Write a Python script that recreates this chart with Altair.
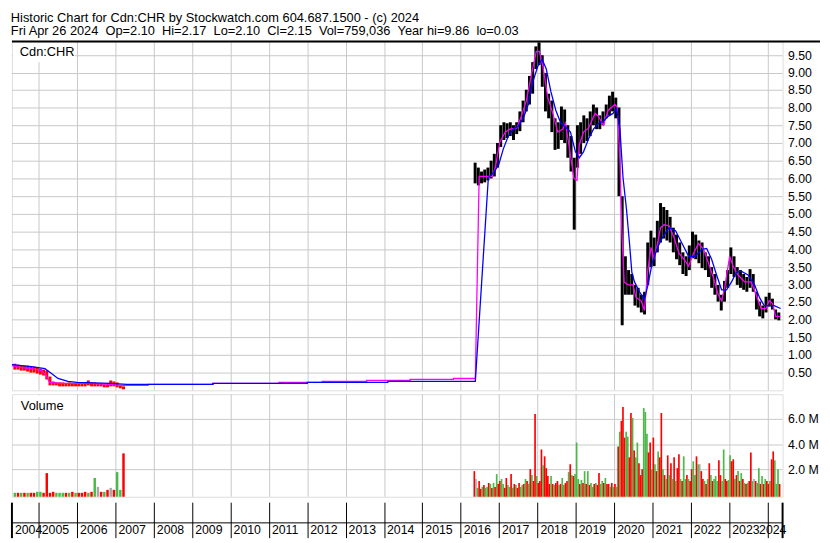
import altair as alt
import pandas as pd

FONT = "Liberation Sans"
GRID = "#c8c8c8"
X0, X1 = 2004.30, 2024.39
W, H_PRICE, H_VOL, H_AX = 782, 354, 104, 34
Y_MAX = 9.88
VOL_MIN, VOL_MAX = -0.23, 8.0

title_lines = [
    "Historic Chart for Cdn:CHR by Stockwatch.com 604.687.1500 - (c) 2024",
    "Fri Apr 26 2024 \u00a0Op=2.10 \u00a0Hi=2.17 \u00a0Lo=2.10 \u00a0Cl=2.15 \u00a0Vol=759,036 \u00a0Year hi=9.86 \u00a0lo=0.03",
]
ticker_label = "Cdn:CHR"
volume_label = "Volume"

grid_years = list(range(2005, 2025))
label_years = list(range(2004, 2025))
price_levels = [0.5, 1.0, 1.5, 2.0, 2.5, 3.0, 3.5, 4.0, 4.5, 5.0,
                5.5, 6.0, 6.5, 7.0, 7.5, 8.0, 8.5, 9.0, 9.5]
vol_levels = [2, 4, 6]

# ---- monthly price ranges, May 2004 - Mar 2007 ----
early_hi = [0.76, 0.72, 0.70, 0.69, 0.70, 0.66, 0.66, 0.63,
            0.62, 0.60, 0.55, 0.40, 0.25, 0.22, 0.22, 0.21, 0.20, 0.22, 0.20, 0.20,
            0.20, 0.21, 0.22, 0.28, 0.22, 0.21, 0.20, 0.19, 0.18, 0.18, 0.27, 0.25,
            0.22, 0.15, 0.12]
early_lo = [0.60, 0.58, 0.55, 0.55, 0.54, 0.50, 0.50, 0.47,
            0.45, 0.42, 0.30, 0.15, 0.13, 0.13, 0.12, 0.12, 0.11, 0.12, 0.11, 0.11,
            0.11, 0.12, 0.12, 0.13, 0.12, 0.11, 0.10, 0.10, 0.09, 0.09, 0.12, 0.10,
            0.08, 0.06, 0.03]

# ---- monthly price ranges, May 2016 - Apr 2024 ----
late_hi = [6.45, 6.30, 6.20, 6.25, 6.30, 6.50, 6.70, 7.00,
           7.50, 7.60, 7.55, 7.60, 7.50, 7.60, 7.90, 8.20, 8.50, 8.90, 9.30, 9.75,
           9.86, 9.50, 9.00, 8.40, 8.20, 7.70, 7.60, 8.05, 7.95, 7.50, 7.20, 6.60,
           7.50, 7.60, 7.80, 7.70, 7.90, 8.10, 8.00, 7.80, 7.90, 8.10, 8.35, 8.45,
           8.30, 8.00, 5.50, 3.80, 3.40, 3.30, 3.00, 2.90, 2.72, 2.80, 4.20, 4.52,
           4.33, 4.80, 5.30, 5.20, 5.10, 4.90, 4.60, 4.40, 4.20, 3.90, 3.80, 4.10,
           4.50, 4.40, 4.25, 4.20, 3.90, 3.80, 3.50, 3.30, 3.00, 2.72, 3.10, 3.40,
           4.06, 3.80, 3.50, 3.40, 3.30, 3.20, 3.44, 3.30, 2.80, 2.50, 2.40, 2.65,
           2.77, 2.60, 2.30, 2.20]
late_lo = [5.85, 5.80, 5.85, 5.90, 5.95, 6.00, 6.05, 6.30,
           6.90, 7.10, 7.15, 7.20, 7.10, 7.25, 7.35, 7.60, 7.90, 8.10, 8.40, 9.10,
           9.20, 8.60, 7.90, 7.70, 7.30, 6.80, 6.85, 7.10, 7.00, 6.60, 6.20, 4.55,
           6.30, 6.70, 7.00, 7.05, 7.20, 7.50, 7.40, 7.40, 7.50, 7.70, 7.80, 7.90,
           7.70, 5.50, 1.83, 2.70, 2.70, 2.70, 2.40, 2.35, 2.20, 2.15, 3.00, 3.50,
           3.53, 3.90, 4.20, 4.30, 4.25, 4.20, 3.90, 3.70, 3.55, 3.30, 3.25, 3.40,
           3.75, 3.70, 3.60, 3.45, 3.40, 3.20, 2.90, 2.70, 2.50, 2.26, 2.50, 2.90,
           3.30, 3.20, 3.00, 2.90, 2.85, 2.80, 2.90, 2.80, 2.30, 2.10, 2.05, 2.20,
           2.37, 2.30, 2.00, 1.99]

# ---- moving averages ----
ma_fast_t = [2004.30, 2004.55, 2004.81, 2005.07, 2005.20, 2005.28, 2005.60, 2006.30, 2006.87, 2007.20, 2007.30,
             2007.85, 2007.85, 2009.54, 2009.54, 2011.26, 2011.26, 2012.39, 2012.39, 2013.55, 2013.55,
             2014.68, 2014.68, 2015.81, 2015.81, 2016.38,
             2016.48, 2016.82, 2016.90, 2017.02, 2017.16, 2017.28, 2017.46, 2017.58, 2017.71, 2017.84,
             2017.97, 2018.05, 2018.14, 2018.27, 2018.40, 2018.53, 2018.66, 2018.73, 2018.82, 2018.95,
             2019.03, 2019.09, 2019.20, 2019.33, 2019.50, 2019.59, 2019.72, 2019.84, 2020.02, 2020.08,
             2020.15, 2020.20, 2020.26, 2020.36, 2020.49, 2020.57, 2020.70, 2020.79, 2020.87, 2020.96,
             2021.04, 2021.13, 2021.21, 2021.30, 2021.43, 2021.56, 2021.69, 2021.82, 2021.94, 2022.07,
             2022.20, 2022.33, 2022.46, 2022.59, 2022.71, 2022.80, 2022.88, 2023.01, 2023.10, 2023.23,
             2023.40, 2023.57, 2023.70, 2023.83, 2023.96, 2024.04, 2024.13, 2024.21, 2024.33]
ma_fast_v = [0.70, 0.65, 0.61, 0.56, 0.43, 0.22, 0.20, 0.19, 0.18, 0.13, 0.14,
             0.14, 0.17, 0.17, 0.19, 0.19, 0.23, 0.23, 0.245, 0.245, 0.28,
             0.28, 0.31, 0.31, 0.345, 0.345,
             6.05, 6.05, 6.31, 7.03, 7.30, 7.39, 7.43, 7.76, 8.20, 8.92,
             9.59, 9.59, 9.19, 8.29, 7.84, 7.30, 7.39, 7.57, 6.95, 6.00,
             5.95, 6.95, 7.30, 7.43, 7.84, 7.76, 7.52, 7.93, 8.10, 8.00,
             6.49, 4.52, 3.07, 2.99, 2.99, 2.63, 2.54, 2.27, 3.34, 4.06,
             3.71, 4.15, 4.60, 4.69, 4.65, 4.33, 3.88, 3.71, 3.53, 3.88,
             4.15, 3.98, 3.61, 3.17, 2.72, 2.54, 2.90, 3.80, 3.53, 3.26,
             3.07, 3.07, 2.72, 2.31, 2.31, 2.54, 2.45, 2.10, 2.10]

ma_slow_t = [2004.30, 2004.81, 2005.16, 2005.33, 2005.50, 2005.76, 2006.00, 2006.87, 2007.30,
             2009.54, 2009.54, 2012.00, 2012.00, 2014.10, 2014.10, 2016.38,
             2016.72, 2016.86, 2016.99, 2017.11, 2017.24, 2017.37, 2017.50, 2017.63, 2017.76, 2017.88,
             2018.01, 2018.12, 2018.23, 2018.35, 2018.48, 2018.61, 2018.74, 2018.86, 2018.99, 2019.09,
             2019.20, 2019.33, 2019.46, 2019.59, 2019.72, 2019.84, 2019.97, 2020.06, 2020.15, 2020.23,
             2020.32, 2020.40, 2020.46, 2020.53, 2020.66, 2020.79, 2020.88, 2020.99, 2021.13, 2021.26,
             2021.43, 2021.60, 2021.77, 2021.94, 2022.11, 2022.29, 2022.41, 2022.54, 2022.67, 2022.80,
             2022.93, 2023.06, 2023.19, 2023.31, 2023.49, 2023.66, 2023.79, 2023.91, 2024.04, 2024.17,
             2024.34]
ma_slow_v = [0.72, 0.67, 0.61, 0.47, 0.34, 0.25, 0.22, 0.20, 0.18,
             0.18, 0.19, 0.19, 0.21, 0.21, 0.24, 0.24,
             6.04, 6.18, 6.40, 6.85, 7.21, 7.39, 7.48, 7.70, 8.10, 8.74,
             9.19, 9.37, 9.10, 8.47, 7.93, 7.57, 7.45, 7.30, 6.76, 6.58,
             6.76, 7.12, 7.39, 7.57, 7.61, 7.75, 7.84, 7.97, 7.39, 6.04,
             5.14, 4.15, 3.34, 3.07, 2.80, 2.58, 2.99, 3.61, 4.06, 4.33,
             4.60, 4.51, 4.15, 3.80, 3.80, 3.98, 4.02, 3.71, 3.26, 2.85,
             2.85, 3.07, 3.34, 3.39, 3.26, 2.99, 2.63, 2.40, 2.40, 2.40,
             2.31]

# ---- volume (millions of shares) ----
vol_early_v = [0.10, 0.08, 0.08, 0.10, 0.05, 0.10, 0.08, 0.20,
               0.20, 0.10, 1.70, 0.10, 0.20, 0.10, 0.08, 0.10, 0.08, 0.10, 0.15, 0.08,
               0.10, 0.10, 0.15, 0.12, 0.15, 1.25, 0.60, 0.20, 0.15, 0.35, 0.50, 0.30,
               1.77, 0.30, 3.25]
vol_early_c = list("grgrgrrg" "grrrrgggrgrg" "rrrgrgnrgrnr" "ggr")

vol_late_v = (
    [1.8, 1.2, 0.5, 1.0, 0.4, 0.6, 0.7, 0.5, 0.6, 0.9, 0.8, 0.5, 0.9, 0.6, 1.6, 0.8]
    + [1.0, 1.2, 0.8, 0.5, 1.25, 0.7, 0.6, 1.56, 0.5, 0.8, 0.7, 0.5, 0.9, 0.6, 0.7, 0.8,
       1.2, 1.0, 0.8, 2.0, 1.5, 1.0, 6.4, 1.4]
    + [0.9, 1.0, 3.6, 2.3, 3.05, 2.1, 1.4, 0.8, 1.4, 0.8, 0.7, 0.9, 1.0, 0.7, 0.8, 1.3,
       0.7, 0.9, 1.0, 1.77, 2.4, 1.5, 1.4, 1.6]
    + [4.1, 1.2, 0.8, 1.1, 0.9, 1.8, 0.8, 1.8, 0.7, 0.9, 0.6, 0.8, 0.9, 0.7, 1.64, 0.8,
       1.0, 0.9, 1.3, 0.8, 0.8, 0.6, 0.9, 0.6]
    + [0.8, 0.6, 3.8, 5.0, 5.9, 7.0, 4.5, 5.0, 4.6, 2.9, 6.5, 6.1, 3.5, 2.9, 4.1, 2.5,
       1.5, 2.0, 6.9, 6.6, 4.8, 3.3, 4.1, 2.0]
    + [4.5, 2.4, 1.8, 3.4, 2.9, 6.5, 2.0, 1.5, 1.2, 3.1, 1.5, 2.5, 1.2, 2.9, 1.0, 2.1,
       3.2, 1.2, 1.0, 3.0, 1.2, 1.5, 1.2, 1.0]
    + [2.0, 2.6, 1.5, 3.0, 2.4, 2.4, 1.8, 1.2, 1.0, 0.8, 1.2, 2.5, 1.5, 1.0, 1.2, 1.4,
       1.0, 2.7, 1.5, 1.0, 3.55, 1.2, 1.0, 1.1]
    + [3.1, 2.6, 2.8, 1.2, 1.5, 1.8, 1.0, 1.7, 1.2, 0.9, 0.8, 0.9, 1.0, 3.35, 1.0, 1.2,
       1.0, 0.9, 2.1, 0.8, 1.4, 0.8, 1.2, 1.0]
    + [0.8, 1.0, 2.8, 3.4, 2.7, 0.8, 2.0, 0.8]
)
vol_late_c = list(
    "rngrrgrggrgrgrgr"
    "rggrrggrgrgrrggrgrgrgrrg"
    "rrrgrrrrgrgrrgrggrrgrgrg"
    "ggrgrgrgrggrgrrggrgrrgrg"
    "rgrgrrrggrrgrggrrrgggrrg"
    "rgrgrrgrgrgrgrgrrgrggrgr"
    "rggrgnrrgrgrgrgggrrggrrg"
    "grrgrgrgrgrgrrgnrggrgrgr"
    "rgrrgggr"
)


def dec_months(start, n):
    per = pd.period_range(start, periods=n, freq="M")
    return [p.year + (p.month - 0.5) / 12 for p in per]


def dec_half_months(start, n_months):
    per = pd.period_range(start, periods=n_months, freq="M")
    out = []
    for p in per:
        b = p.year + (p.month - 1) / 12
        out += [b + 0.25 / 12, b + 0.75 / 12]
    return out


early_df = pd.DataFrame({"t": dec_months("2004-05", len(early_hi)), "hi": early_hi, "lo": early_lo})
late_df = pd.DataFrame({"t": dec_months("2016-05", len(late_hi)), "hi": late_hi, "lo": late_lo})
fast_df = pd.DataFrame({"t": ma_fast_t, "v": ma_fast_v, "i": range(len(ma_fast_t))})
slow_df = pd.DataFrame({"t": ma_slow_t, "v": ma_slow_v, "i": range(len(ma_slow_t))})
vol_e_df = pd.DataFrame({"t": dec_months("2004-05", len(vol_early_v)), "v": vol_early_v, "c": vol_early_c})
vol_l_df = pd.DataFrame({"t": dec_half_months("2016-05", len(vol_late_v) // 2), "v": vol_late_v, "c": vol_late_c})

xs = alt.Scale(domain=[X0, X1], nice=False, zero=False)
xs_grid = alt.Scale(domain=[X0, X1], nice=False, zero=False, round=True)
ys = alt.Scale(domain=[0, Y_MAX], nice=False, zero=False, round=True)
vs = alt.Scale(domain=[VOL_MIN, VOL_MAX], nice=False, zero=False, round=True)
cs = alt.Scale(domain=["r", "g", "n"], range=["#ff0000", "#4cb848", "#a8a8a8"])

price_axis = alt.Axis(orient="right", values=price_levels, format=".2f", grid=False, ticks=False,
                      domain=False, labelPadding=5, labelFontSize=12.5, labelColor="black",
                      labelFont=FONT, title=None, labelOverlap=False, labelFlush=False)
vol_axis = alt.Axis(orient="right", values=vol_levels, labelExpr="format(datum.value, '.1f') + ' M'",
                    grid=False, ticks=False, domain=False, labelPadding=5, labelFontSize=12.5,
                    labelColor="black", labelFont=FONT, title=None, labelOverlap=False, labelFlush=False)


def xq(field):
    return alt.X(f"{field}:Q", scale=xs, axis=None)


def xg(field):
    return alt.X(f"{field}:Q", scale=xs_grid, axis=None)


one = pd.DataFrame({"a": [0]})

# ---------------- price panel ----------------
p_vgrid = alt.Chart(pd.DataFrame({"yr": grid_years})).mark_rule(
    color=GRID, strokeWidth=1, xOffset=0.5).encode(
    x=xg("yr"), y=alt.value(0), y2=alt.value(H_PRICE))
p_hgrid = alt.Chart(pd.DataFrame({"lv": price_levels})).mark_rule(
    color=GRID, strokeWidth=1, yOffset=0.5).encode(
    y=alt.Y("lv:Q", scale=ys, axis=price_axis), x=alt.value(0), x2=alt.value(W))
p_box = alt.Chart(one).mark_rect(color="white").encode(
    x=alt.value(1), x2=alt.value(64), y=alt.value(1), y2=alt.value(21))
p_early = alt.Chart(early_df).mark_rule(color="#ff0000", strokeWidth=3).encode(
    x=xq("t"), y=alt.Y("lo:Q", scale=ys, axis=price_axis), y2="hi:Q")
p_late = alt.Chart(late_df).mark_rule(color="black", strokeWidth=3).encode(
    x=xq("t"), y=alt.Y("lo:Q", scale=ys, axis=price_axis), y2="hi:Q")
p_fast = alt.Chart(fast_df).mark_line(color="#ff00ff", strokeWidth=1.3).encode(
    x=xq("t"), y=alt.Y("v:Q", scale=ys, axis=price_axis), order="i:Q")
p_slow = alt.Chart(slow_df).mark_line(color="#0000ff", strokeWidth=1.3).encode(
    x=xq("t"), y=alt.Y("v:Q", scale=ys, axis=price_axis), order="i:Q")
p_top = alt.Chart(one).mark_rule(color="black", strokeWidth=2).encode(
    x=alt.value(0), x2=alt.value(820), y=alt.value(0))
p_label = alt.Chart(pd.DataFrame({"s": [ticker_label]})).mark_text(
    align="left", baseline="middle", fontSize=13, font=FONT, color="black").encode(
    text="s:N", x=alt.value(8), y=alt.value(11))

price = alt.layer(p_vgrid, p_hgrid, p_box, p_early, p_late, p_fast, p_slow, p_top, p_label).properties(
    width=W, height=H_PRICE).resolve_scale(x="independent")

# ---------------- volume panel ----------------
v_vgrid = alt.Chart(pd.DataFrame({"yr": grid_years})).mark_rule(
    color=GRID, strokeWidth=1, xOffset=0.5).encode(
    x=xg("yr"), y=alt.value(0), y2=alt.value(H_VOL))
v_hgrid = alt.Chart(pd.DataFrame({"lv": vol_levels})).mark_rule(
    color=GRID, strokeWidth=1, yOffset=0.5).encode(
    y=alt.Y("lv:Q", scale=vs, axis=vol_axis), x=alt.value(0), x2=alt.value(W))
v_box = alt.Chart(one).mark_rect(color="white").encode(
    x=alt.value(1), x2=alt.value(64), y=alt.value(1), y2=alt.value(23))
v_early = alt.Chart(vol_e_df).mark_rule(strokeWidth=2.5).encode(
    x=xq("t"), y=alt.Y("v:Q", scale=vs, axis=vol_axis), y2=alt.value(H_VOL),
    color=alt.Color("c:N", scale=cs, legend=None))
v_late = alt.Chart(vol_l_df).mark_rule(strokeWidth=1.7).encode(
    x=xq("t"), y=alt.Y("v:Q", scale=vs, axis=vol_axis), y2=alt.value(H_VOL),
    color=alt.Color("c:N", scale=cs, legend=None))
v_label = alt.Chart(pd.DataFrame({"s": [volume_label]})).mark_text(
    align="left", baseline="middle", fontSize=13, font=FONT, color="black").encode(
    text="s:N", x=alt.value(9), y=alt.value(12))

vol = alt.layer(v_vgrid, v_hgrid, v_box, v_early, v_late, v_label).properties(
    width=W, height=H_VOL).resolve_scale(x="independent")

# ---------------- year strip ----------------
b_rules = alt.Chart(pd.DataFrame({"yr": grid_years})).mark_rule(
    color="black", strokeWidth=1, xOffset=0.5).encode(
    x=xg("yr"), y=alt.value(-2), y2=alt.value(H_AX))
b_mid = alt.Chart(one).mark_rule(color="black", strokeWidth=1, yOffset=0.5).encode(
    x=alt.value(0), x2=alt.value(W), y=alt.value(18))
b_left = alt.Chart(one).mark_rule(color="black", strokeWidth=2).encode(
    x=alt.value(0), y=alt.value(-2), y2=alt.value(H_AX))
b_right = alt.Chart(one).mark_rule(color="black", strokeWidth=2).encode(
    x=alt.value(W), y=alt.value(-2), y2=alt.value(H_AX))
b_labels = alt.Chart(pd.DataFrame({"yr": label_years})).transform_calculate(
    lx="clamp(datum.yr, 2004.3, 2023.70)").mark_text(
    align="left", baseline="middle", dx=3, fontSize=12.5, font=FONT, color="black").encode(
    x=alt.X("lx:Q", scale=xs, axis=None), y=alt.value(26), text=alt.Text("yr:Q", format="d"))

bottom = alt.layer(b_rules, b_mid, b_left, b_right, b_labels).properties(
    width=W, height=H_AX, view=alt.ViewBackground(stroke="transparent")).resolve_scale(x="independent")

chart = alt.vconcat(price, vol, bottom, spacing=2).properties(
    padding=0,
    title=alt.TitleParams(text=title_lines, anchor="start", fontSize=13, fontWeight="normal",
                          font=FONT, color="black", lineHeight=13.5, offset=2, dx=2),
).configure_view(stroke="black", strokeWidth=2).configure(font=FONT, background="white")

chart.save("out.html", embed_options={"renderer": "svg", "actions": False})
